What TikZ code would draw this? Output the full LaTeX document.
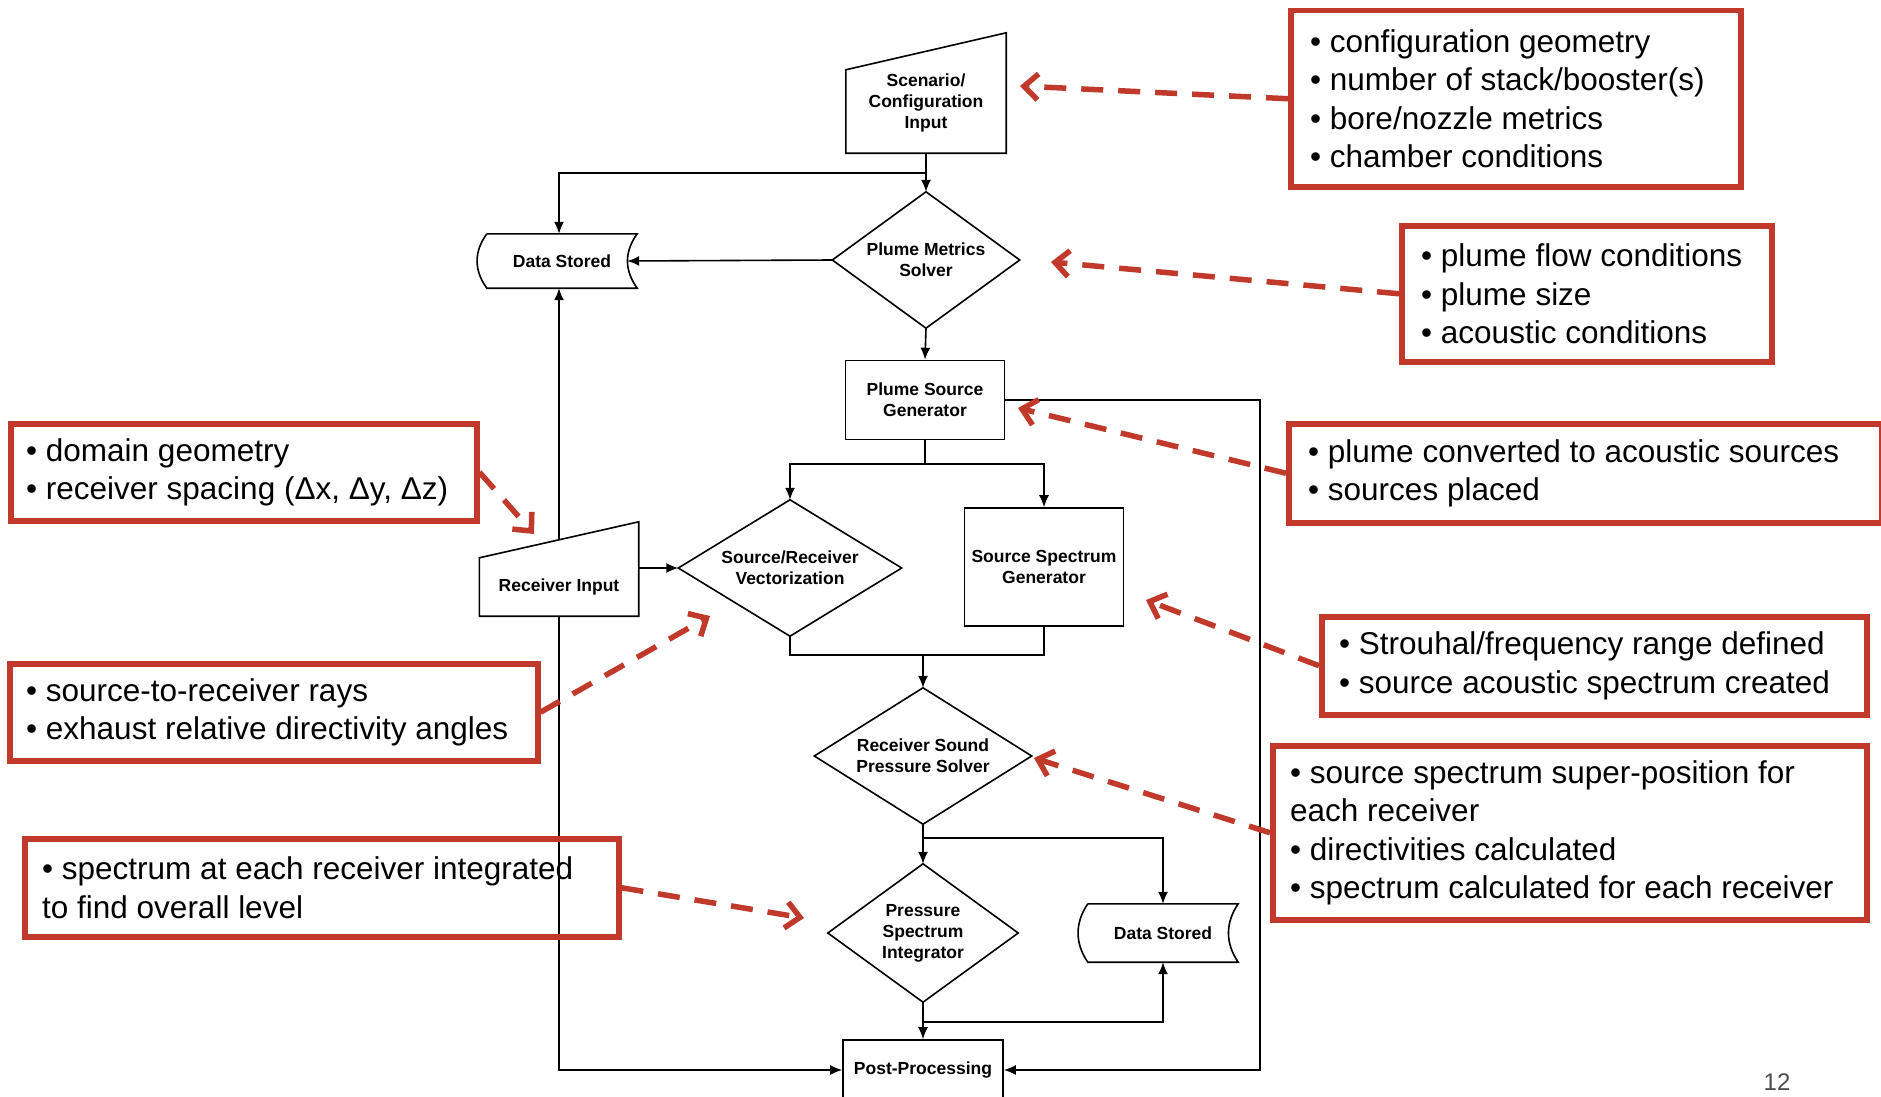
\documentclass[tikz,border=0pt]{standalone}
\usepackage{fontspec}
\setmainfont{Liberation Sans}
\usetikzlibrary{arrows.meta,calc}
\definecolor{noteRed}{RGB}{192,57,43}
\newcommand\flowfont{\bfseries\fontsize{17.5}{21}\selectfont}
\newcommand\notefont{\fontsize{31.5}{38.5}\selectfont}
\begin{document}
\begin{tikzpicture}[x=1pt,y=-1pt,
  flow/.style={draw=black, line width=1.6pt, -{Latex[length=12pt,width=10pt]}},
  ln/.style={draw=black, line width=1.6pt},
  box/.style={draw=black, line width=1.6pt, inner sep=0pt, align=center, font=\flowfont},
  hid/.style={draw=none, inner sep=0pt, align=center, font=\flowfont},
  notebox/.style={draw=noteRed, line width=5.5pt, inner sep=0pt, anchor=north west},
  notetext/.style={inner sep=0pt, align=left, font=\notefont, anchor=west},
  redarrow/.style={draw=noteRed, line width=5.5pt, dash pattern=on 22pt off 15pt, -{Straight Barb[length=14pt,width=26pt]}}
]
\useasboundingbox (0,0) rectangle (1881,1097);
\fill[white] (0,0) rectangle (1881,1097);
\clip (0,0) rectangle (1881,1097);

% ---------- flow nodes ----------
\node[hid, minimum width=160pt, minimum height=101pt] (scen) at (926,102.5) {Scenario/\\Configuration\\Input};
\draw[ln] (scen.south west) -- (scen.south east) -- ([yshift=19pt]scen.north east) -- ([yshift=-18pt]scen.north west) -- cycle;

\node[hid, minimum width=187pt, minimum height=136pt] (pms) at (926,260) {Plume Metrics\\Solver};
\draw[ln] (pms.north) -- (pms.east) -- (pms.south) -- (pms.west) -- cycle;

\node[hid, minimum width=150pt, minimum height=54pt] (ds1) at (562,261) {Data Stored};
\draw[ln] (ds1.north west) -- (ds1.north east) .. controls +(-13,18) and +(-13,-18) .. (ds1.south east) -- (ds1.south west) .. controls +(-13,-18) and +(-13,18) .. (ds1.north west);

\node[box, minimum width=159pt, minimum height=79pt] (psg) at (925,400) {Plume Source\\Generator};

\node[hid, minimum width=223pt, minimum height=136pt] (srv) at (790,568) {Source/Receiver\\Vectorization};
\draw[ln] (srv.north) -- (srv.east) -- (srv.south) -- (srv.west) -- cycle;

\node[box, minimum width=159pt, minimum height=118pt] (ssg) at (1044,567) {Source Spectrum\\Generator};

\node[hid, minimum width=159pt, minimum height=58pt] (ri) at (559,587) {Receiver Input};
\draw[ln] (ri.south west) -- (ri.south east) -- ([yshift=36pt]ri.north east) -- (ri.north west) -- cycle;

\node[hid, minimum width=217pt, minimum height=136pt] (rsps) at (923,756) {Receiver Sound\\Pressure Solver};
\draw[ln] (rsps.north) -- (rsps.east) -- (rsps.south) -- (rsps.west) -- cycle;

\node[hid, minimum width=190pt, minimum height=138pt] (psi) at (923,933) {Pressure\\Spectrum\\Integrator};
\draw[ln] (psi.north) -- (psi.east) -- (psi.south) -- (psi.west) -- cycle;

\node[hid, minimum width=150pt, minimum height=58pt] (ds2) at (1163,933) {Data Stored};
\draw[ln] (ds2.north west) -- (ds2.north east) .. controls +(-13,19) and +(-13,-19) .. (ds2.south east) -- (ds2.south west) .. controls +(-13,-19) and +(-13,19) .. (ds2.north west);

\node[box, minimum width=160pt, minimum height=60pt] (pp) at (923,1070) {Post-Processing};

% ---------- connectors ----------
\coordinate (j1) at (926,173);
\coordinate (rx) at (1260,400);
\coordinate (sp) at (925,464);
\coordinate (mj) at (923,655);
\coordinate (b1) at (923,838);
\coordinate (b2) at (923,1022);
\coordinate (rt) at (559,540);

\draw[flow] (scen.south) -- (pms.north);
\draw[flow] (j1) -| (rt |- ds1.north);
\draw[flow] (pms.west) -- ([xshift=-10pt]ds1.east);
\draw[flow] (pms.south) -- (psg.north);
\draw[flow] (psg.east) -- (rx) |- (pp.east);
\draw[ln] (psg.south) -- (sp);
\draw[flow] (sp) -| (srv.north);
\draw[flow] (sp) -| (ssg.north);
\draw[flow] (ri.east |- srv.west) -- (srv.west);
\draw[ln] (srv.south) |- (mj) -| (ssg.south);
\draw[flow] (mj) -- (rsps.north);
\draw[flow] (rsps.south) -- (psi.north);
\draw[flow] (b1) -| (ds2.north);
\draw[flow] (psi.south) -- (pp.north);
\draw[flow] (b2) -| (ds2.south);
\draw[flow] (rt) -- (rt |- ds1.south);
\draw[flow] (ri.south) |- (pp.west);

% ---------- notes ----------
\node[notebox, minimum width=450pt, minimum height=176pt] (n1) at (1288,8) {};
\node[notetext] (n1t) at ([xshift=22pt]n1.west) {• configuration geometry\\• number of stack/booster(s)\\• bore/nozzle metrics\\• chamber conditions};

\node[notebox, minimum width=370pt, minimum height=136pt] (n2) at (1399,223) {};
\node[notetext] (n2t) at ([xshift=22pt]n2.west) {• plume flow conditions\\• plume size\\• acoustic conditions};

\node[notebox, minimum width=593pt, minimum height=99pt] (n3) at (1286,421) {};
\node[notetext] (n3t) at ([xshift=22pt]n3.west) {• plume converted to acoustic sources\\• sources placed};

\node[notebox, minimum width=466pt, minimum height=97pt] (n4) at (8,421) {};
\node[notetext] (n4t) at ([xshift=18pt]n4.west) {• domain geometry\\• receiver spacing (Δx, Δy, Δz)};

\node[notebox, minimum width=545pt, minimum height=98pt] (n5) at (1319,614) {};
\node[notetext] (n5t) at ([xshift=20pt]n5.west) {• Strouhal/frequency range defined\\• source acoustic spectrum created};

\node[notebox, minimum width=528pt, minimum height=97pt] (n6) at (7,661) {};
\node[notetext] (n6t) at ([xshift=19pt]n6.west) {• source-to-receiver rays\\• exhaust relative directivity angles};

\node[notebox, minimum width=594pt, minimum height=174pt] (n7) at (1270,743) {};
\node[notetext] (n7t) at ([xshift=20pt]n7.west) {• source spectrum super-position for\\each receiver\\• directivities calculated\\• spectrum calculated for each receiver};

\node[notebox, minimum width=594pt, minimum height=98pt] (n8) at (22,836) {};
\node[notetext] (n8t) at ([xshift=20pt]n8.west) {• spectrum at each receiver integrated\\to find overall level};

% ---------- red arrows ----------
\coordinate (t1) at (1020,86);
\coordinate (t2) at (1051,262);
\coordinate (t3) at (1018,408);
\coordinate (t4) at (534,534);
\coordinate (t5) at (1146,600);
\coordinate (t6) at (710,616);
\coordinate (t7) at (1034,758);
\coordinate (t8) at (804,918);
\draw[redarrow] (n1.west) -- (t1);
\draw[redarrow] (n2.west) -- (t2);
\draw[redarrow] (n3.west) -- (t3);
\draw[redarrow] (n4.east) -- (t4);
\draw[redarrow] (n5.west) -- (t5);
\draw[redarrow] (n6.east) -- (t6);
\draw[redarrow] (n7.west) -- (t7);
\draw[redarrow] (n8.east) -- (t8);

\node[font=\fontsize{24}{24}\selectfont, text=black!70, inner sep=0pt] (pg) at (1777,1082) {12};
\end{tikzpicture}
\end{document}
